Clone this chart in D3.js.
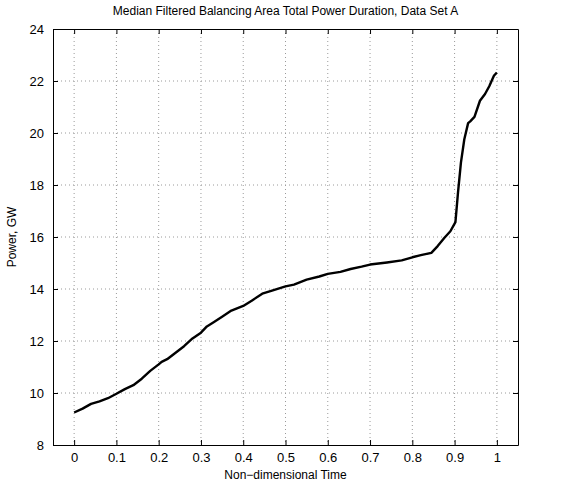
<!DOCTYPE html>
<html><head><meta charset="utf-8">
<script src="https://cdn.jsdelivr.net/npm/d3@7"></script>
<style>body{margin:0;background:#fff}svg{display:block}text{font-family:"Liberation Sans",Arial,sans-serif}</style>
</head><body><svg id="c" width="571" height="485"></svg>
<script>
const timeVals = [0,0.02,0.04,0.06,0.08,0.1,0.12,0.14,0.16,0.18,0.2,0.207,0.22,0.24,0.26,0.28,0.3,0.314,0.33,0.35,0.372,0.4,0.42,0.445,0.47,0.5,0.52,0.55,0.58,0.6,0.63,0.654,0.68,0.7,0.74,0.775,0.8,0.82,0.845,0.86,0.876,0.89,0.902,0.908,0.915,0.923,0.932,0.937,0.947,0.96,0.972,0.982,0.993,1.0];
const powerVals = [9.25,9.4,9.58,9.68,9.8,9.97,10.15,10.3,10.55,10.85,11.1,11.2,11.3,11.55,11.8,12.1,12.32,12.56,12.72,12.93,13.17,13.35,13.55,13.82,13.95,14.1,14.17,14.36,14.48,14.58,14.66,14.77,14.86,14.94,15.02,15.1,15.22,15.3,15.39,15.65,15.97,16.22,16.57,17.7,18.86,19.76,20.38,20.45,20.62,21.24,21.5,21.8,22.2,22.33];
const xTicks = [0,0.1,0.2,0.3,0.4,0.5,0.6,0.7,0.8,0.9,1];
const yTicks = [8,10,12,14,16,18,20,22,24];
const titleText = "Median Filtered Balancing Area Total Power Duration, Data Set A";
const xLabel = "Non\u2212dimensional Time";
const yLabel = "Power, GW";

const L=53, R=518, T=29, B=445;
const svg = d3.select("#c");
const x = d3.scaleLinear().domain([-0.05,1.05]).range([L,R]);
const y = d3.scaleLinear().domain([8,24]).range([B,T]);

// grid
const g = svg.append("g");
g.selectAll(".gx").data(xTicks).join("line")
 .attr("x1",d=>x(d)).attr("x2",d=>x(d)).attr("y1",T).attr("y2",B)
 .attr("stroke","#9a9a9a").attr("stroke-width",1).attr("stroke-dasharray","1,3");
g.selectAll(".gy").data(yTicks.slice(1,-1)).join("line")
 .attr("x1",L).attr("x2",R).attr("y1",d=>y(d)).attr("y2",d=>y(d))
 .attr("stroke","#9a9a9a").attr("stroke-width",1).attr("stroke-dasharray","1,3");

// axes
const fmt = d=>d3.format("")(d);
const ax = (axis,tr)=>{
  const a = svg.append("g").attr("transform",tr).call(axis);
  a.select(".domain").attr("stroke","#000").attr("stroke-width",1);
  a.selectAll(".tick line").attr("stroke","#000");
  a.selectAll("text").attr("font-size",13).attr("fill","#000");
  return a;
};
ax(d3.axisBottom(x).tickValues(xTicks).tickFormat(fmt).tickSizeInner(-5).tickSizeOuter(0).tickPadding(8),`translate(0,${B})`);
ax(d3.axisTop(x).tickValues(xTicks).tickFormat("").tickSizeInner(-5).tickSizeOuter(0),`translate(0,${T})`);
ax(d3.axisLeft(y).tickValues(yTicks).tickFormat(fmt).tickSizeInner(-5).tickSizeOuter(0).tickPadding(9),`translate(${L},0)`);
ax(d3.axisRight(y).tickValues(yTicks).tickFormat("").tickSizeInner(-5).tickSizeOuter(0),`translate(${R},0)`);

// line
const pts = timeVals.map((t,i)=>[t,powerVals[i]]);
svg.append("path").datum(pts)
 .attr("d",d3.line().x(d=>x(d[0])).y(d=>y(d[1])))
 .attr("fill","none").attr("stroke","#000").attr("stroke-width",2.4).attr("stroke-linejoin","round");

// labels
svg.append("text").attr("x",(L+R)/2).attr("y",15).attr("text-anchor","middle").attr("font-size",12).text(titleText);
svg.append("text").attr("x",(L+R)/2).attr("y",479).attr("text-anchor","middle").attr("font-size",12).text(xLabel);
svg.append("text").attr("transform",`translate(16,${(T+B)/2}) rotate(-90)`).attr("text-anchor","middle").attr("font-size",12).text(yLabel);
</script></body></html>
